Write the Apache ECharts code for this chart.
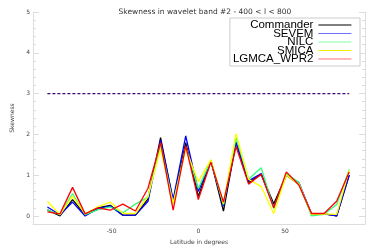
<!DOCTYPE html>
<html><head><meta charset="utf-8">
<script src="https://cdn.jsdelivr.net/npm/echarts@6/dist/echarts.min.js"></script>
<style>html,body{margin:0;padding:0;background:#fff}#c{width:375px;height:250px}</style>
</head><body><div id="c"></div>
<script>
const latitudes = [-87, -79.75, -72.5, -65.25, -58, -50.75, -43.5, -36.25, -29, -21.75, -14.5, -7.25, 0, 7.25, 14.5, 21.75, 29, 36.25, 43.5, 50.75, 58, 65.25, 72.5, 79.75, 87];
const commander = [0.15, 0.0, 0.4, 0.03, 0.2, 0.26, 0.02, 0.02, 0.42, 1.92, 0.36, 1.8, 0.48, 1.36, 0.12, 1.8, 0.82, 1.02, 0.3, 1.0, 0.78, 0.05, 0.05, 0.0, 1.0];
const sevem = [0.22, 0.03, 0.34, 0.0, 0.18, 0.24, 0.02, 0.02, 0.36, 1.86, 0.4, 1.96, 0.6, 1.36, 0.24, 1.8, 0.86, 1.04, 0.22, 1.0, 0.82, 0.05, 0.05, 0.0, 1.0];
const nilc = [0.14, 0.03, 0.55, 0.03, 0.15, 0.22, 0.08, 0.29, 0.46, 1.76, 0.3, 1.7, 0.67, 1.36, 0.28, 1.92, 0.9, 1.18, 0.18, 1.04, 0.82, 0.0, 0.04, 0.28, 1.14];
const smica = [0.36, 0.03, 0.48, 0.05, 0.22, 0.34, 0.06, 0.06, 0.48, 1.64, 0.3, 1.64, 0.84, 1.38, 0.3, 2.02, 0.9, 0.72, 0.06, 1.0, 0.78, 0.04, 0.05, 0.04, 1.12];
const lgmca = [0.1, 0.05, 0.7, 0.05, 0.2, 0.14, 0.29, 0.12, 0.68, 1.8, 0.14, 1.72, 0.4, 1.32, 0.34, 1.7, 0.78, 1.02, 0.2, 1.08, 0.76, 0.06, 0.06, 0.36, 1.08];
const thresholdX = [-87, 87];
const thresholdY = 3;
const seriesNames = ['Commander', 'SEVEM', 'NILC', 'SMICA', 'LGMCA_WPR2'];
const seriesColors = ['#000000', '#0000ff', '#33ff77', '#ffff00', '#ff0000'];
const legendColors = ['#000000', '#7070ff', '#80ffa8', '#f0f000', '#ff7070'];
const xTickLabels = [-50, 0, 50];
const yTickLabels = [0, 1, 2, 3, 4, 5];
const yMinorTicks = [0.2,0.4,0.6,0.8,1.2,1.4,1.6,1.8,2.2,2.4,2.6,2.8,3.2,3.4,3.6,3.8,4.2,4.4,4.6,4.8];

const allValues = [commander, sevem, nilc, smica, lgmca];
const series = allValues.map((vals, k) => ({
  name: seriesNames[k], type: 'line', xAxisIndex: 0, yAxisIndex: 0,
  data: latitudes.map((x, i) => [x, vals[i]]),
  showSymbol: false, symbol: 'none',
  lineStyle: { color: seriesColors[k], width: 1.3 },
  itemStyle: { color: seriesColors[k] },
  animation: false
}));
series.push({
  name: 'threshold', type: 'line', xAxisIndex: 0, yAxisIndex: 0,
  data: thresholdX.map(x => [x, thresholdY]),
  showSymbol: false, symbol: 'none',
  lineStyle: { color: '#3c0a78', width: 1.3, type: [3, 2] },
  animation: false
});

const axisGrey = '#dddddd';
const yBase = { type: 'value', min: -0.2, max: 5, splitLine: { show: false } };
const chart = echarts.init(document.getElementById('c'), null, { renderer: 'canvas' });
chart.setOption({
  animation: false,
  backgroundColor: '#ffffff',
  title: { text: 'Skewness in wavelet band #2 - 400 < l < 800', left: 200, textAlign: 'center', top: 3,
    textStyle: { fontSize: 7.5, fontWeight: 'normal', color: '#333', fontFamily: 'DejaVu Sans' } },
  grid: { left: 33, right: 10, top: 12, bottom: 21 },
  legend: {
    data: seriesNames.map((n, k) => ({ name: n,
      itemStyle: { opacity: 0 },
      lineStyle: { color: legendColors[k], width: 1.2 } })),
    orient: 'vertical', right: 15, top: 18, align: 'right',
    itemWidth: 33, itemHeight: 8, itemGap: -3.5,
    itemStyle: { opacity: 0 },
    lineStyle: { width: 1.2 },
    textStyle: { fontSize: 11.5, color: '#000', fontFamily: 'Liberation Sans', padding: [0, 0, 0, 0] },
    padding: [1, 8, 1, 3],
    borderColor: '#cccccc', borderWidth: 1, backgroundColor: '#fff'
  },
  xAxis: [{
    type: 'value', min: -95.3, max: 96.1,
    name: 'Latitude in degrees', nameLocation: 'middle', nameGap: 13,
    nameTextStyle: { fontSize: 6, color: '#444', fontFamily: 'DejaVu Sans' },
    axisLine: { show: true, onZero: false, lineStyle: { color: axisGrey } },
    axisTick: { show: false },
    axisLabel: { customValues: xTickLabels, fontSize: 6, color: '#444', margin: 4, fontFamily: 'DejaVu Sans' },
    splitLine: { show: false }
  }],
  yAxis: [
    Object.assign({}, yBase, {
      position: 'left', name: 'Skewness', nameLocation: 'middle', nameGap: 12, nameRotate: 90,
      nameTextStyle: { fontSize: 6, color: '#444', fontFamily: 'DejaVu Sans' },
      axisLine: { show: true, onZero: false, lineStyle: { color: axisGrey } },
      axisTick: { show: true, inside: true, length: 6, customValues: yTickLabels, lineStyle: { color: axisGrey } },
      axisLabel: { customValues: yTickLabels, fontSize: 6, color: '#444', margin: 3, fontFamily: 'DejaVu Sans' }
    }),
    Object.assign({}, yBase, {
      position: 'left',
      axisLine: { show: false, onZero: false },
      axisTick: { show: true, inside: true, length: 3, customValues: yMinorTicks, lineStyle: { color: axisGrey } },
      axisLabel: { show: false }
    }),
    Object.assign({}, yBase, {
      position: 'right',
      axisLine: { show: true, onZero: false, lineStyle: { color: axisGrey } },
      axisTick: { show: true, inside: true, length: 6, customValues: yTickLabels, lineStyle: { color: axisGrey } },
      axisLabel: { show: false }
    }),
    Object.assign({}, yBase, {
      position: 'right',
      axisLine: { show: false, onZero: false },
      axisTick: { show: true, inside: true, length: 3, customValues: yMinorTicks, lineStyle: { color: axisGrey } },
      axisLabel: { show: false }
    })
  ],
  series: series
});
</script></body></html>
